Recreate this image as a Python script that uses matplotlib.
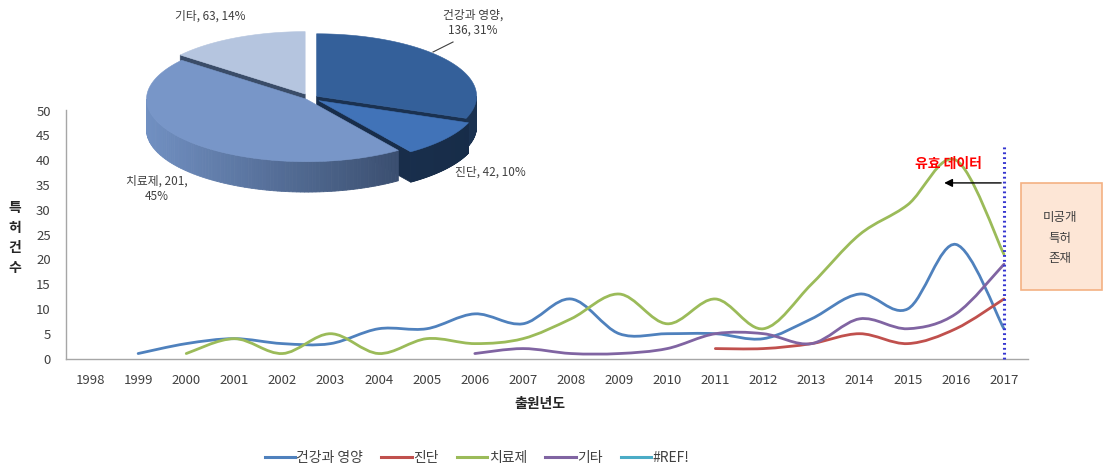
import numpy as np
import matplotlib
matplotlib.use("Agg")
import matplotlib.pyplot as plt
from matplotlib.path import Path
from matplotlib.patches import PathPatch, Polygon, Rectangle
from matplotlib.lines import Line2D
from matplotlib.colors import to_rgb

plt.rcParams['font.family'] = ['Noto Sans CJK KR', 'DejaVu Sans']

years = list(range(1998, 2018))
nan = np.nan

# 출원년도별 특허 건수
health = [nan, 1, 3, 4, 3, 3, 6, 6, 9, 7, 12, 5, 5, 5, 4, 8, 13, 10, 23, 6]
diag = [nan] * 13 + [2, 2, 3, 5, 3, 6, 12]
diag = diag[-20:]
therapy = [nan, nan, 1, 4, 1, 5, 1, 4, 3, 4, 8, 13, 7, 12, 6, 15, 25, 31, 40, 21]
other = [nan] * 8 + [1, 2, 1, 1, 2, 5, 5, 3, 8, 6, 9, 19]

series_names = ['건강과 영양', '진단', '치료제', '기타', '#REF!']
series_colors = ['#4F81BD', '#C0504D', '#9BBB59', '#8064A2', '#4BACC6']

# 분야별 합계 (파이)
pie_names = ['건강과 영양', '진단', '치료제', '기타']
pie_values = [136, 42, 201, 63]
pie_pcts = [31, 10, 45, 14]

W, H = 1104, 469
fig = plt.figure(figsize=(W / 100, H / 100), dpi=100)


def fx(px):
    return px / W


def fy(py):
    return 1 - py / H


def smooth_path(xs, ys):
    """Excel 식 부드러운 선: Catmull-Rom 베지어"""
    pts = np.column_stack([xs, ys])
    n = len(pts)
    verts = [pts[0]]
    codes = [Path.MOVETO]
    for i in range(n - 1):
        p0 = pts[max(i - 1, 0)]
        p1 = pts[i]
        p2 = pts[i + 1]
        p3 = pts[min(i + 2, n - 1)]
        verts += [p1 + (p2 - p0) / 6, p2 - (p3 - p1) / 6, p2]
        codes += [Path.CURVE4] * 3
    return Path(verts, codes)


ax = fig.add_axes([fx(66), fy(358.5), fx(1028) - fx(66), fy(110.5) - fy(358.5)])
x = np.arange(len(years))

for vals, col in zip([health, diag, therapy, other], series_colors):
    v = np.array(vals, dtype=float)
    m = ~np.isnan(v)
    ax.add_patch(PathPatch(smooth_path(x[m], v[m]), fill=False, edgecolor=col,
                           lw=2.0, capstyle='round', joinstyle='round', zorder=3))

ax.set_xlim(-0.5, len(years) - 0.5)
ax.set_ylim(0, 50)
ax.set_yticks(range(0, 51, 5))
ax.set_xticks(x)
ax.set_xticklabels([str(y) for y in years])
ax.tick_params(length=0, labelsize=9.5, labelcolor='#404040')
ax.tick_params(axis='y', pad=11)
ax.tick_params(axis='x', pad=11)
for s in ['top', 'right']:
    ax.spines[s].set_visible(False)
for s in ['left', 'bottom']:
    ax.spines[s].set_color('#A6A6A6')
    ax.spines[s].set_linewidth(1.0)

# 2017 기준선과 유효 데이터 표시
ax.plot([x[-1], x[-1]], [0, 42.8], color='#3535D0', lw=2.2, ls=(0, (0.6, 1.0)),
        zorder=4, clip_on=False)
ax.annotate('', xy=(17.7, 35.4), xytext=(x[-1], 35.4),
            arrowprops=dict(arrowstyle='-|>', color='black', lw=1.0,
                            mutation_scale=12), zorder=5)
ax.text(17.85, 39.3, '유효 데이터', color='#FF0000', fontsize=10, fontweight='bold',
        style='italic', ha='center', va='center', zorder=5)

fig.text(fx(15), fy(238), '특\n허\n건\n수', fontsize=10, fontweight='bold',
         ha='center', va='center', linespacing=1.55, color='#262626')
fig.text(fx(540), fy(404), '출원년도', fontsize=10, fontweight='bold',
         ha='center', va='center', color='#262626')

# 미공개 특허 박스
fig.patches.append(Rectangle((fx(1021), fy(290)), fx(1102) - fx(1021), fy(183) - fy(290),
                             transform=fig.transFigure, facecolor='#FDE6D6',
                             edgecolor='#F4B183', lw=1.2))
fig.text(fx(1060), fy(238), '미공개\n특허\n존재', fontsize=9, ha='center', va='center',
         linespacing=1.75, color='#404040')

# 범례
handles = [Line2D([], [], color=c, lw=2.2) for c in series_colors]
fig.legend(handles, series_names, loc='center', bbox_to_anchor=(fx(477), fy(458)),
           ncol=5, frameon=False, fontsize=10, handlelength=2.2, handletextpad=0.1,
           columnspacing=1.3, labelcolor='#404040')

# 3D 파이
pax = fig.add_axes([fx(140), fy(200), fx(480) - fx(140), fy(25) - fy(200)])
pax.set_xlim(-1.0625, 1.0625)
pax.set_ylim(-0.6375, 0.456)
pax.axis('off')
pax.patch.set_alpha(0)

k = 0.39
depth = 0.19
explode = [0.05, 0.07, 0.03, 0.07]
top_cols = ['#34609A', '#4173B8', '#7896C8', '#B5C5DF']
side_left = ['#24446C', '#1E375A', '#7190C2', '#3E5170']
side_right = ['#1B3250', '#172C48', '#2C3D5A', '#3E5170']
face_cols = ['#1A3150', '#182D4A', '#2A3B57', '#3A4C68']

total = sum(pie_values)
bounds = []
acc = 0
for v in pie_values:
    a2 = 90 - 360 * acc / total
    acc += v
    a1 = 90 - 360 * acc / total
    bounds.append((a1, a2))


def pt(cx, cy, t, drop=0.0):
    r = np.radians(t)
    return (cx + np.cos(r), cy + k * np.sin(r) - drop)


def draw_slice(i):
    a1, a2 = bounds[i]
    mid = np.radians((a1 + a2) / 2)
    cx = explode[i] * np.cos(mid)
    cy = explode[i] * np.sin(mid) * k
    # 옆 단면
    for a, vis in [(a1, np.cos(np.radians(a1)) > 0), (a2, np.cos(np.radians(a2)) < 0)]:
        if vis:
            p = pt(cx, cy, a)
            q = pt(cx, cy, a, depth)
            pax.add_patch(Polygon([(cx, cy), p, q, (cx, cy - depth)], closed=True,
                                  facecolor=face_cols[i], edgecolor=face_cols[i], lw=0.5))
    # 바깥 둘레
    ts = np.linspace(a1, a2, 120)
    cl, cr = np.array(to_rgb(side_left[i])), np.array(to_rgb(side_right[i]))
    for t1, t2 in zip(ts[:-1], ts[1:]):
        if np.sin(np.radians((t1 + t2) / 2)) >= 0:
            continue
        f = (np.cos(np.radians((t1 + t2) / 2)) + 1) / 2
        col = cl * (1 - f) + cr * f
        pax.add_patch(Polygon([pt(cx, cy, t1), pt(cx, cy, t2), pt(cx, cy, t2, depth),
                               pt(cx, cy, t1, depth)], closed=True,
                              facecolor=col, edgecolor=col, lw=0.6))
    # 윗면
    top = [(cx, cy)] + [pt(cx, cy, t) for t in ts]
    pax.add_patch(Polygon(top, closed=True, facecolor=top_cols[i],
                          edgecolor=top_cols[i], lw=0.4))


for i in [3, 0, 1, 2]:
    draw_slice(i)

lab = dict(fontsize=8.5, color='#404040', ha='center', va='center')
fig.text(fx(210), fy(16), f'{pie_names[3]}, {pie_values[3]}, {pie_pcts[3]}%', **lab)
fig.text(fx(473), fy(23), f'{pie_names[0]},\n{pie_values[0]}, {pie_pcts[0]}%', **lab)
fig.text(fx(490), fy(172), f'{pie_names[1]}, {pie_values[1]}, {pie_pcts[1]}%', **lab)
fig.text(fx(157), fy(189), f'{pie_names[2]}, {pie_values[2]},\n{pie_pcts[2]}%', **lab)
fig.add_artist(Line2D([fx(433), fx(453)], [fy(52), fy(42)], color='#404040', lw=0.8))

fig.savefig('out.png', dpi=100)
